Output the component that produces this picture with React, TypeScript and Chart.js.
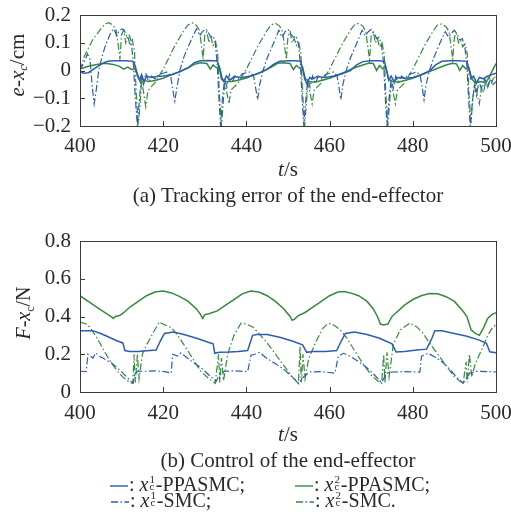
import React, { useEffect, useRef } from "react";
import { Chart, registerables } from "chart.js";

Chart.register(...registerables);

// ---------- axes ----------
const X_MIN = 400;
const X_MAX = 500;
const X_STEP = 20;

const ERR_Y_TICKS = [-0.2, -0.1, 0, 0.1, 0.2];
const CTRL_Y_TICKS = [0, 0.2, 0.4, 0.6, 0.8];

// ---------- data: (a) tracking error e-x_c (cm), [t, value] ----------
const ERR_X1_PPASMC: [number, number][] = [
  [400, -0.005], [401, -0.01], [402, -0.008], [403, 0.002], [404, 0.012], [405, 0.022], [406, 0.03], [407, 0.034], [409, 0.035], [411, 0.035], [412.8, 0.033], [413.3, 0.015], [413.8, -0.02], [414.3, -0.035], [414.8, -0.015], [415.4, -0.04], [416, -0.02], [417, -0.025], [418.5, -0.022], [420, -0.02], [422, -0.015], [424, -0.005], [426, 0.01], [427.5, 0.028], [429, 0.035], [431, 0.036], [433, 0.034], [433.5, 0.01], [434, -0.03], [434.6, -0.04], [435.2, -0.02], [436, -0.035], [437, -0.022], [439, -0.025], [441, -0.02], [443, -0.01], [445, 0.005], [446.5, 0.022], [448, 0.033], [450, 0.035], [452, 0.035], [453, 0.033], [453.5, 0.01], [454, -0.03], [454.6, -0.05], [455.2, -0.025], [456, -0.03], [457, -0.022], [459, -0.025], [461, -0.02], [463, -0.012], [465, 0.0], [466.5, 0.02], [468, 0.032], [470, 0.035], [472, 0.035], [473.2, 0.032], [473.7, 0.0], [474.2, -0.035], [474.8, -0.02], [475.5, -0.04], [476.5, -0.025], [478, -0.028], [480, -0.025], [482, -0.015], [484, -0.002], [485.5, 0.02], [487, 0.033], [489, 0.035], [491, 0.035], [493, 0.033], [493.5, 0.005], [494, -0.03], [494.6, -0.02], [495.3, -0.045], [496, -0.025], [497, -0.03], [498, -0.02], [499, -0.015], [500, -0.01],
];

const ERR_X2_PPASMC: [number, number][] = [
  [400, 0.005], [402, 0.015], [404, 0.022], [406, 0.026], [408, 0.022], [409.5, 0.015], [410.5, 0.005], [411.5, 0.012], [412.5, 0.003], [413.3, 0.008], [414, -0.02], [414.6, -0.045], [415.3, -0.035], [416.5, -0.04], [418, -0.036], [420, -0.028], [422, -0.015], [424, -0.003], [426, 0.01], [427.5, 0.022], [429, 0.028], [430.5, 0.025], [431.3, 0.005], [432, 0.02], [432.8, 0.01], [433.5, 0.015], [434.2, -0.03], [435, -0.04], [436.5, -0.04], [438, -0.035], [440, -0.027], [442, -0.015], [444, -0.003], [446, 0.012], [447.5, 0.026], [449, 0.028], [450.5, 0.025], [451.3, 0.003], [452, 0.018], [452.8, 0.008], [453.5, 0.01], [454.2, -0.03], [455, -0.04], [456.5, -0.042], [458, -0.036], [460, -0.028], [462, -0.016], [464, -0.003], [466, 0.01], [468, 0.02], [469.5, 0.027], [470.5, 0.025], [471.3, 0.0], [472, 0.018], [472.8, 0.005], [473.5, 0.012], [474.2, -0.03], [475, -0.04], [476.5, -0.042], [478, -0.036], [480, -0.028], [482, -0.016], [484, -0.004], [486, 0.008], [488, 0.02], [489.5, 0.026], [490.5, 0.024], [491.3, 0.0], [492, 0.018], [492.8, 0.005], [493.5, 0.01], [494.2, -0.03], [495, -0.045], [496.5, -0.04], [497.5, -0.045], [498.5, -0.02], [499.3, 0.005], [500, 0.025],
];

const ERR_X1_SMC: [number, number][] = [
  [400, 0.0], [401, 0.03], [401.8, 0.06], [402.4, 0.04], [402.9, -0.05], [403.4, -0.12], [403.9, -0.07], [404.5, 0.0], [405.3, 0.05], [406, 0.085], [406.8, 0.115], [407.5, 0.14], [408.2, 0.15], [408.8, 0.125], [409.3, 0.14], [410, 0.15], [410.6, 0.145], [411.2, 0.125], [411.8, 0.13], [412.3, 0.105], [412.8, 0.03], [413.3, -0.1], [413.8, -0.2], [414.3, -0.1], [414.8, -0.02], [415.3, -0.05], [415.8, -0.01], [416.5, -0.04], [417.2, -0.02], [418, -0.03], [419, -0.015], [420, -0.01], [421, -0.005], [421.8, -0.02], [422.3, -0.07], [422.8, -0.11], [423.3, -0.06], [424, 0.0], [425, 0.05], [426, 0.085], [427, 0.12], [428, 0.15], [428.8, 0.125], [429.4, 0.14], [430.2, 0.15], [430.8, 0.14], [431.4, 0.12], [432, 0.125], [432.5, 0.1], [433, 0.02], [433.4, -0.1], [433.8, -0.2], [434.3, -0.09], [434.8, -0.03], [435.3, -0.06], [435.9, -0.015], [436.6, -0.04], [437.3, -0.02], [438, -0.03], [439, -0.012], [440, -0.008], [441, -0.005], [441.8, -0.025], [442.3, -0.07], [442.7, -0.105], [443.2, -0.05], [444, 0.0], [445, 0.045], [446, 0.08], [447, 0.115], [447.8, 0.145], [448.6, 0.12], [449.3, 0.14], [450, 0.148], [450.7, 0.13], [451.3, 0.12], [451.9, 0.125], [452.5, 0.095], [453, 0.02], [453.4, -0.1], [453.8, -0.2], [454.3, -0.1], [454.8, -0.03], [455.3, -0.06], [455.9, -0.02], [456.6, -0.045], [457.3, -0.02], [458, -0.03], [459, -0.015], [460, -0.01], [461, -0.005], [461.8, -0.02], [462.3, -0.065], [462.7, -0.105], [463.2, -0.05], [464, 0.0], [465, 0.045], [466, 0.08], [467, 0.115], [467.8, 0.145], [468.6, 0.125], [469.3, 0.14], [470, 0.148], [470.7, 0.135], [471.3, 0.115], [471.9, 0.12], [472.5, 0.09], [473, 0.02], [473.4, -0.1], [473.8, -0.2], [474.3, -0.1], [474.8, -0.03], [475.3, -0.065], [475.9, -0.02], [476.6, -0.04], [477.3, -0.02], [478, -0.03], [479, -0.015], [480, -0.01], [481, -0.005], [481.8, -0.02], [482.3, -0.065], [482.7, -0.105], [483.2, -0.05], [484, 0.0], [485, 0.045], [486, 0.08], [487, 0.115], [487.8, 0.14], [488.6, 0.12], [489.3, 0.135], [490, 0.145], [490.7, 0.13], [491.3, 0.11], [491.9, 0.115], [492.5, 0.085], [493, 0.02], [493.4, -0.1], [493.8, -0.2], [494.3, -0.12], [494.8, -0.05], [495.3, -0.09], [495.9, -0.04], [496.6, -0.07], [497.3, -0.03], [498, -0.06], [498.7, -0.03], [499.3, -0.05], [500, -0.04],
];

const ERR_X2_SMC: [number, number][] = [
  [400, 0.0], [401, 0.05], [402, 0.08], [403, 0.11], [404, 0.13], [405, 0.15], [406, 0.168], [407, 0.172], [408, 0.162], [408.7, 0.145], [409.2, 0.09], [409.6, 0.04], [410, 0.13], [410.5, 0.145], [411, 0.1], [411.5, 0.125], [412, 0.09], [412.6, 0.11], [413.1, 0.07], [413.5, -0.08], [414, -0.195], [414.4, -0.13], [414.8, -0.04], [415.3, -0.08], [415.8, -0.13], [416.3, -0.075], [417, -0.06], [418, -0.045], [419, -0.02], [420, 0.005], [421, 0.035], [422, 0.065], [423, 0.095], [424, 0.12], [425, 0.145], [426, 0.165], [427, 0.172], [428, 0.162], [428.7, 0.145], [429.2, 0.09], [429.6, 0.04], [430, 0.13], [430.5, 0.14], [431, 0.1], [431.5, 0.12], [432, 0.09], [432.6, 0.105], [433.1, 0.06], [433.5, -0.08], [434, -0.2], [434.4, -0.12], [434.8, -0.05], [435.3, -0.08], [435.8, -0.12], [436.3, -0.07], [437, -0.06], [438, -0.045], [439, -0.02], [440, 0.005], [441, 0.035], [442, 0.065], [443, 0.095], [444, 0.12], [445, 0.145], [446, 0.165], [447, 0.17], [448, 0.16], [448.7, 0.14], [449.2, 0.085], [449.6, 0.04], [450, 0.125], [450.5, 0.14], [451, 0.1], [451.5, 0.115], [452, 0.09], [452.6, 0.1], [453.1, 0.06], [453.5, -0.08], [454, -0.2], [454.4, -0.12], [454.8, -0.05], [455.3, -0.08], [455.8, -0.12], [456.3, -0.07], [457, -0.06], [458, -0.045], [459, -0.02], [460, 0.005], [461, 0.035], [462, 0.065], [463, 0.095], [464, 0.12], [465, 0.145], [466, 0.165], [467, 0.17], [468, 0.16], [468.7, 0.14], [469.2, 0.085], [469.6, 0.04], [470, 0.125], [470.5, 0.14], [471, 0.1], [471.5, 0.115], [472, 0.085], [472.6, 0.1], [473.1, 0.06], [473.5, -0.08], [474, -0.2], [474.4, -0.12], [474.8, -0.05], [475.3, -0.08], [475.8, -0.12], [476.3, -0.07], [477, -0.06], [478, -0.045], [479, -0.02], [480, 0.005], [481, 0.035], [482, 0.065], [483, 0.095], [484, 0.12], [485, 0.145], [486, 0.165], [487, 0.168], [488, 0.158], [488.7, 0.14], [489.2, 0.085], [489.6, 0.04], [490, 0.12], [490.5, 0.135], [491, 0.1], [491.5, 0.11], [492, 0.085], [492.6, 0.095], [493.1, 0.06], [493.5, -0.08], [494, -0.19], [494.4, -0.1], [495, -0.04], [495.5, -0.09], [496, -0.12], [496.5, -0.06], [497, -0.08], [497.5, -0.04], [498, -0.06], [498.5, -0.03], [499, -0.045], [499.5, -0.02], [500, -0.03],
];

// ---------- data: (b) control F-x_c (N), [t, value] ----------
const CTRL_X1_PPASMC: [number, number][] = [
  [400, 0.325], [403, 0.325], [405, 0.31], [407, 0.29], [409, 0.27], [410.3, 0.26], [410.8, 0.22], [412, 0.215], [414, 0.215], [416, 0.218], [418.3, 0.222], [419.3, 0.27], [420.3, 0.31], [422.5, 0.318], [425, 0.305], [428, 0.285], [431, 0.262], [432, 0.255], [432.4, 0.205], [433.5, 0.21], [436, 0.212], [438, 0.215], [440.3, 0.22], [441.5, 0.3], [442.5, 0.305], [445, 0.305], [448, 0.29], [451, 0.27], [453.5, 0.25], [454.5, 0.21], [456, 0.215], [459, 0.215], [461.7, 0.22], [462.8, 0.27], [463.8, 0.31], [466, 0.318], [469, 0.305], [472, 0.285], [475, 0.255], [476, 0.212], [478, 0.215], [481, 0.222], [483.3, 0.227], [484.5, 0.28], [485.3, 0.325], [487, 0.325], [490, 0.31], [493, 0.295], [496, 0.275], [497.7, 0.258], [498.5, 0.213], [500, 0.208],
];

const CTRL_X2_PPASMC: [number, number][] = [
  [400, 0.51], [402, 0.48], [404, 0.45], [406, 0.42], [407.5, 0.4], [408, 0.39], [408.5, 0.4], [409.5, 0.405], [410.5, 0.42], [412, 0.45], [414, 0.48], [416, 0.51], [418, 0.53], [420, 0.535], [422, 0.525], [424, 0.505], [426, 0.48], [428, 0.44], [429, 0.41], [429.5, 0.39], [430, 0.41], [431, 0.415], [433, 0.43], [435, 0.46], [437, 0.49], [439, 0.52], [441, 0.535], [443, 0.53], [445, 0.51], [447, 0.48], [449, 0.44], [450.5, 0.4], [451, 0.38], [451.5, 0.385], [452.5, 0.405], [454, 0.42], [456, 0.45], [458, 0.48], [460, 0.51], [462, 0.53], [463.5, 0.532], [465, 0.525], [467, 0.51], [469, 0.48], [470.5, 0.44], [471.5, 0.4], [472.2, 0.36], [473, 0.355], [474, 0.36], [475, 0.4], [476, 0.42], [478, 0.46], [480, 0.49], [482, 0.51], [484, 0.522], [486, 0.52], [488, 0.505], [490, 0.48], [492, 0.43], [493, 0.4], [494, 0.33], [495, 0.31], [496, 0.3], [497, 0.34], [498, 0.39], [499, 0.41], [500, 0.42],
];

const CTRL_X1_SMC: [number, number][] = [
  [400, 0.11], [401.5, 0.108], [401.9, 0.2], [402.5, 0.19], [403.1, 0.18], [403.8, 0.207], [404.6, 0.19], [405.5, 0.18], [407.5, 0.155], [409.9, 0.11], [411, 0.085], [412.3, 0.055], [412.8, 0.05], [413.2, 0.1], [414, 0.11], [416, 0.11], [418, 0.112], [420.3, 0.108], [421.9, 0.1], [422.3, 0.2], [423.5, 0.19], [424.3, 0.207], [425.5, 0.185], [427, 0.16], [429, 0.13], [431.5, 0.08], [432.7, 0.055], [433.5, 0.09], [434.7, 0.11], [437, 0.112], [440.3, 0.108], [441.1, 0.195], [442, 0.2], [443.1, 0.21], [445.1, 0.175], [447, 0.15], [449, 0.12], [451, 0.08], [452.5, 0.046], [453.7, 0.08], [455.3, 0.106], [458, 0.108], [461.3, 0.1], [462.1, 0.19], [463.3, 0.205], [464.9, 0.19], [467, 0.16], [468.9, 0.13], [471, 0.085], [472.5, 0.05], [473.7, 0.1], [475.3, 0.106], [478, 0.108], [481.7, 0.105], [482.1, 0.19], [483.7, 0.205], [485.7, 0.18], [487, 0.16], [488.9, 0.12], [490.5, 0.08], [492.1, 0.046], [493.7, 0.1], [495.3, 0.11], [498, 0.108], [500, 0.106],
];

const CTRL_X2_SMC: [number, number][] = [
  [400, 0.37], [401.5, 0.36], [402.5, 0.34], [404, 0.29], [406, 0.21], [407.5, 0.155], [409, 0.11], [410.5, 0.075], [412, 0.05], [412.7, 0.045], [413, 0.2], [413.3, 0.05], [413.8, 0.2], [414.2, 0.07], [415, 0.2], [416, 0.25], [417.5, 0.31], [419, 0.37], [420, 0.36], [422, 0.34], [423.5, 0.3], [425, 0.25], [427, 0.18], [429, 0.11], [431, 0.07], [432.5, 0.045], [433.3, 0.2], [433.6, 0.05], [434, 0.18], [434.5, 0.06], [435.5, 0.2], [437, 0.3], [438.7, 0.365], [440, 0.36], [441.5, 0.345], [443, 0.31], [445, 0.26], [447, 0.2], [449, 0.14], [451, 0.08], [452.5, 0.045], [452.9, 0.24], [453.2, 0.05], [453.6, 0.2], [454.1, 0.07], [455, 0.18], [457, 0.28], [458.5, 0.34], [459.7, 0.365], [461, 0.355], [462.5, 0.33], [464, 0.29], [466, 0.22], [468, 0.15], [470, 0.09], [471.5, 0.06], [472.5, 0.045], [473, 0.2], [473.3, 0.05], [473.8, 0.21], [474.3, 0.08], [475.3, 0.25], [477, 0.33], [479.3, 0.365], [481, 0.345], [482.5, 0.31], [484, 0.26], [486, 0.2], [488, 0.14], [490, 0.08], [492.1, 0.045], [492.8, 0.16], [493.1, 0.05], [493.6, 0.2], [494.2, 0.08], [495, 0.15], [496.9, 0.24], [498, 0.3], [499.3, 0.346], [500, 0.355],
];

// ---------- styling ----------
const BLUE = "#2d5cb4";
const GREEN = "#358a3c";
const FRAME = "#3a3a3a";
const TEXT = "#2a2a2a";
const SERIF = "'Liberation Serif', 'Times New Roman', serif";
const TICK_FONT = { family: "'Liberation Serif'", size: 21 };
const DASHDOT = [7, 2.5, 1.5, 2.5];

type Series = { data: [number, number][]; color: string; dashed: boolean };

const fmtTick = (v: number) => {
  if (Math.abs(v) < 1e-9) return "0";
  return (v < 0 ? "\u2212" : "") + Math.abs(v).toFixed(1);
};

const framePlugin = {
  id: "frame",
  afterDraw(chart: any) {
    const { ctx, chartArea, scales } = chart;
    const { left, right, top, bottom } = chartArea;
    ctx.save();
    ctx.strokeStyle = FRAME;
    ctx.lineWidth = 1;
    ctx.strokeRect(Math.round(left) + 0.5, Math.round(top) + 0.5, Math.round(right - left), Math.round(bottom - top));
    ctx.beginPath();
    scales.x.ticks.forEach((t: any) => {
      const px = Math.round(scales.x.getPixelForValue(t.value)) + 0.5;
      ctx.moveTo(px, bottom);
      ctx.lineTo(px, bottom - 5);
    });
    scales.y.ticks.forEach((t: any) => {
      const py = Math.round(scales.y.getPixelForValue(t.value)) + 0.5;
      ctx.moveTo(left, py);
      ctx.lineTo(left + 5, py);
    });
    ctx.stroke();
    ctx.restore();
  },
};

function Plot(props: {
  top: number;
  height: number;
  padTop: number;
  xHeight: number;
  xPad: number;
  yTicks: number[];
  series: Series[];
}) {
  const ref = useRef<HTMLCanvasElement | null>(null);
  useEffect(() => {
    if (!ref.current) return;
    const yT = props.yTicks;
    const chart = new Chart(ref.current, {
      type: "line",
      data: {
        datasets: props.series.map((s) => ({
          data: s.data.map(([x, y]) => ({ x, y })),
          borderColor: s.color,
          borderWidth: s.dashed ? 1.2 : 1.5,
          borderDash: s.dashed ? DASHDOT : [],
          pointRadius: 0,
          tension: 0,
          fill: false,
        })),
      },
      options: {
        animation: false,
        responsive: false,
        maintainAspectRatio: false,
        layout: { padding: { top: props.padTop, right: 15, left: 0, bottom: 0 } },
        plugins: { legend: { display: false }, tooltip: { enabled: false } },
        scales: {
          x: {
            type: "linear",
            min: X_MIN,
            max: X_MAX,
            grid: { display: false, drawTicks: false },
            border: { display: false },
            ticks: {
              stepSize: X_STEP,
              padding: props.xPad,
              maxRotation: 0,
              autoSkip: false,
              color: TEXT,
              font: TICK_FONT,
            },
            afterFit: (s: any) => {
              s.height = props.xHeight;
              s.paddingLeft = 0;
              s.paddingRight = 0;
            },
          },
          y: {
            type: "linear",
            min: yT[0],
            max: yT[yT.length - 1],
            grid: { display: false, drawTicks: false },
            border: { display: false },
            ticks: {
              stepSize: yT[1] - yT[0],
              autoSkip: false,
              padding: 9,
              color: TEXT,
              font: TICK_FONT,
              callback: (v: any) => fmtTick(Number(v)),
            },
            afterFit: (s: any) => {
              s.width = 80;
              s.paddingTop = 0;
              s.paddingBottom = 0;
            },
          },
        },
      } as any,
      plugins: [framePlugin],
    });
    return () => chart.destroy();
  }, []);
  return (
    <canvas
      ref={ref}
      width={511}
      height={props.height}
      style={{ position: "absolute", left: 0, top: props.top, width: 511, height: props.height }}
    />
  );
}

// x with stacked superscript / subscript
const Xc = (p: { sup?: string; italicC?: boolean }) => (
  <span>
    <i>x</i>
    {p.sup ? (
      <span
        style={{
          position: "relative",
          display: "inline-block",
          width: "0.32em",
          height: "0.8em",
          marginLeft: 1,
        }}
      >
        <span style={{ position: "absolute", left: 0, top: "-0.12em", fontSize: "0.55em", lineHeight: 1 }}>{p.sup}</span>
        <span style={{ position: "absolute", left: 0, top: "0.5em", fontSize: "0.55em", lineHeight: 1 }}>c</span>
      </span>
    ) : (
      <span style={{ fontSize: "0.6em", verticalAlign: "-0.3em", lineHeight: 0, fontStyle: p.italicC ? "italic" : "normal" }}>c</span>
    )}
  </span>
);

function LegendSwatch(p: { color: string; dashed: boolean }) {
  return (
    <svg width={18} height={10} style={{ verticalAlign: "middle", marginRight: 1 }}>
      <line
        x1={0}
        y1={5}
        x2={18}
        y2={5}
        stroke={p.color}
        strokeWidth={1.4}
        strokeDasharray={p.dashed ? DASHDOT.join(" ") : undefined}
      />
    </svg>
  );
}

const abs = (left: number, top: number, center = true): React.CSSProperties => ({
  position: "absolute",
  left,
  top,
  transform: center ? "translate(-50%, -50%)" : "translate(0, -50%)",
  whiteSpace: "nowrap",
  lineHeight: 1,
});

export default function App() {
  useEffect(() => {
    document.body.style.margin = "0";
  }, []);
  const topSeries: Series[] = [
    { data: ERR_X1_PPASMC, color: BLUE, dashed: false },
    { data: ERR_X2_PPASMC, color: GREEN, dashed: false },
    { data: ERR_X1_SMC, color: BLUE, dashed: true },
    { data: ERR_X2_SMC, color: GREEN, dashed: true },
  ];
  const botSeries: Series[] = [
    { data: CTRL_X1_PPASMC, color: BLUE, dashed: false },
    { data: CTRL_X2_PPASMC, color: GREEN, dashed: false },
    { data: CTRL_X1_SMC, color: BLUE, dashed: true },
    { data: CTRL_X2_SMC, color: GREEN, dashed: true },
  ];
  return (
    <div
      style={{
        position: "absolute",
        left: 0,
        top: 0,
        width: 511,
        height: 525,
        background: "#fff",
        fontFamily: SERIF,
        color: TEXT,
        overflow: "hidden",
      }}
    >
      <Plot top={0} height={162} padTop={15} xHeight={36} xPad={8} yTicks={ERR_Y_TICKS} series={topSeries} />
      <Plot top={220} height={212} padTop={21} xHeight={40} xPad={9} yTicks={CTRL_Y_TICKS} series={botSeries} />

      <div style={{ ...abs(17, 65), transform: "translate(-50%, -50%) rotate(-90deg)", fontSize: 21 }}>
        <i>e</i>-<Xc italicC />/cm
      </div>
      <div style={{ ...abs(23, 313), transform: "translate(-50%, -50%) rotate(-90deg)", fontSize: 20 }}>
        <i>F</i>-<Xc />/N
      </div>

      <div style={{ ...abs(288, 169), fontSize: 21 }}>
        <i>t</i>/s
      </div>
      <div style={{ ...abs(288, 195), fontSize: 21 }}>(a) Tracking error of the end-effector</div>

      <div style={{ ...abs(288, 434), fontSize: 21 }}>
        <i>t</i>/s
      </div>
      <div style={{ ...abs(288, 460), fontSize: 21 }}>(b) Control of the end-effector</div>

      <div style={{ ...abs(110, 484, false), fontSize: 20 }}>
        <LegendSwatch color={BLUE} dashed={false} />: <Xc sup="1" />-PPASMC;
      </div>
      <div style={{ ...abs(295, 484, false), fontSize: 20 }}>
        <LegendSwatch color={GREEN} dashed={false} />: <Xc sup="2" />-PPASMC;
      </div>
      <div style={{ ...abs(111, 500, false), fontSize: 20 }}>
        <LegendSwatch color={BLUE} dashed={true} />: <Xc sup="1" />-SMC;
      </div>
      <div style={{ ...abs(296, 500, false), fontSize: 20 }}>
        <LegendSwatch color={GREEN} dashed={true} />: <Xc sup="2" />-SMC.
      </div>
    </div>
  );
}
